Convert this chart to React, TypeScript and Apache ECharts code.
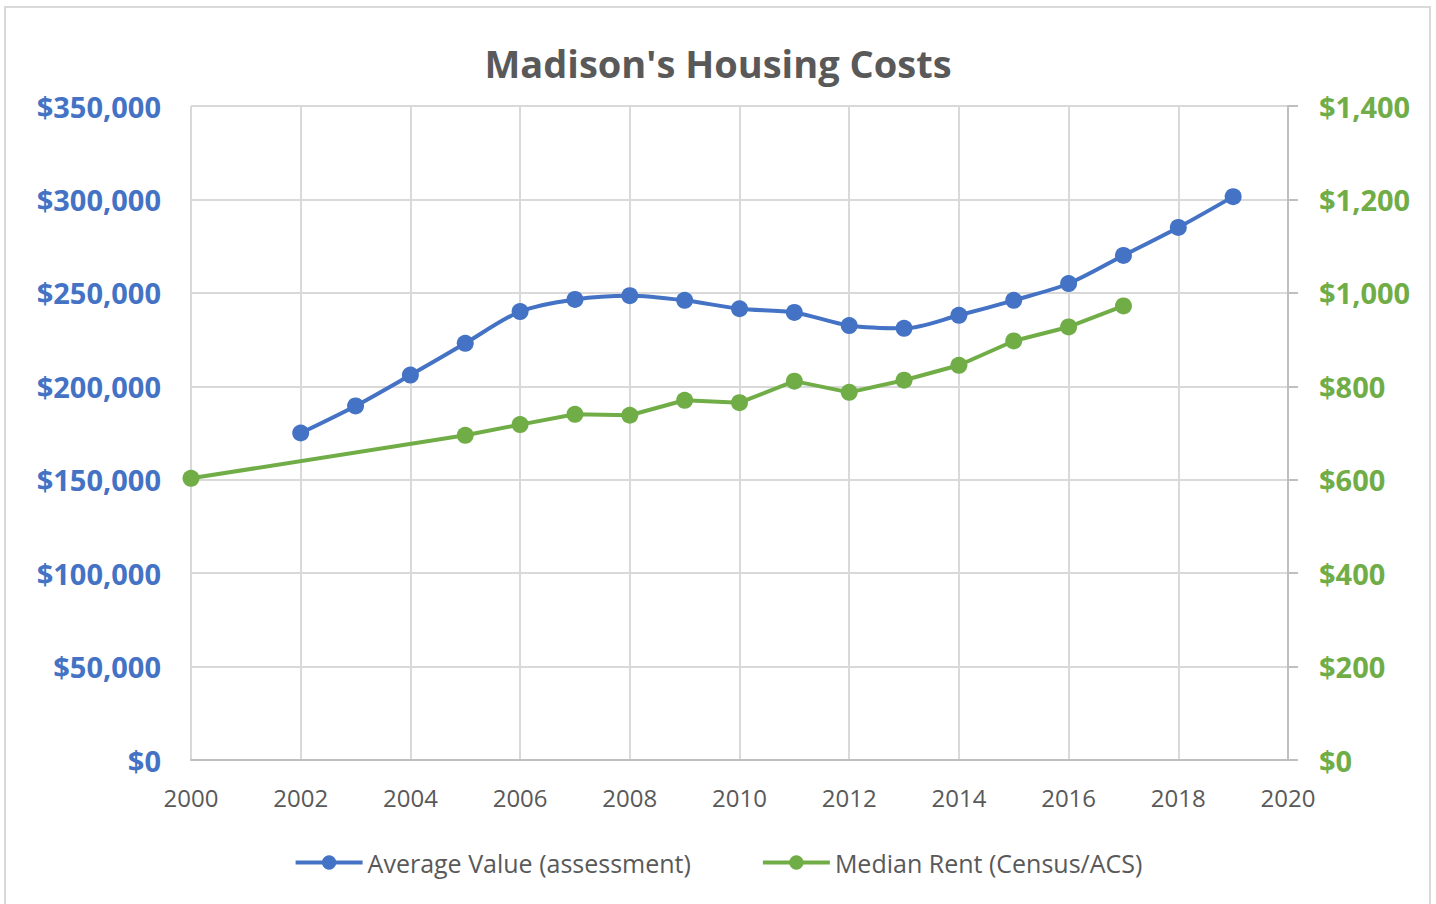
import React, { useEffect, useRef } from "react";
import * as echarts from "echarts";

const valueYears = [2002, 2003, 2004, 2005, 2006, 2007, 2008, 2009, 2010, 2011, 2012, 2013, 2014, 2015, 2016, 2017, 2018, 2019];
const averageValue = [175000, 189500, 206000, 223000, 240000, 246500, 248500, 246000, 241500, 239500, 232500, 231000, 238000, 246000, 255000, 270000, 285000, 301500];

const rentYears = [2000, 2005, 2006, 2007, 2008, 2009, 2010, 2011, 2012, 2013, 2014, 2015, 2016, 2017];
const medianRent = [603, 695, 718, 740, 738, 770, 765, 811, 787, 813, 845, 897, 927, 972];

const FONT = "'Open Sans', 'Noto Sans', sans-serif";

export default function App() {
  const ref = useRef<HTMLDivElement>(null);
  useEffect(() => {
    document.body.style.margin = "0";
    const chart = echarts.init(ref.current!, undefined, { renderer: "svg" });
    chart.setOption({
      animation: false,
      backgroundColor: "#ffffff",
      textStyle: { fontFamily: FONT },
      title: {
        text: "Madison's Housing Costs",
        left: "center",
        top: 39,
        textStyle: { fontFamily: FONT, fontSize: 38, fontWeight: "bold", color: "#595959" },
      },
      graphic: [
        {
          type: "rect",
          shape: { x: 5, y: 7, width: 1425, height: 920 },
          style: { fill: "none", stroke: "#d9d9d9", lineWidth: 2 },
          silent: true,
        },
      ],
      legend: {
        bottom: 24,
        left: "center",
        itemWidth: 67,
        itemHeight: 18,
        itemGap: 70,
        lineStyle: { width: 4 },
        textStyle: { fontFamily: FONT, fontSize: 25, color: "#595959" },
        data: ["Average Value (assessment)", "Median Rent (Census/ACS)"],
      },
      grid: { left: 191, right: 148, top: 106, bottom: 144 },
      xAxis: {
        type: "value",
        min: 2000,
        max: 2020,
        interval: 2,
        axisLine: { show: true, lineStyle: { color: "#bfbfbf", width: 2 } },
        axisTick: { show: false },
        axisLabel: { color: "#595959", fontSize: 24, fontFamily: FONT, margin: 25, formatter: (v: number) => String(v) },
        splitLine: { show: true, lineStyle: { color: "#d9d9d9", width: 2 } },
      },
      yAxis: [
        {
          type: "value",
          min: 0,
          max: 350000,
          interval: 50000,
          axisLine: { show: false },
          axisTick: { show: false },
          axisLabel: {
            color: "#4472C4",
            fontSize: 29,
            fontWeight: "bold",
            fontFamily: FONT,
            margin: 30,
            formatter: (v: number) => "$" + v.toLocaleString("en-US"),
          },
          splitLine: { show: true, lineStyle: { color: "#d9d9d9", width: 2 } },
        },
        {
          type: "value",
          min: 0,
          max: 1400,
          interval: 200,
          position: "right",
          axisLine: { show: true, lineStyle: { color: "#bfbfbf", width: 2 } },
          axisTick: { show: true, length: 10, lineStyle: { color: "#bfbfbf", width: 2 } },
          axisLabel: {
            color: "#70AD47",
            fontSize: 29,
            fontWeight: "bold",
            fontFamily: FONT,
            margin: 31,
            formatter: (v: number) => "$" + v.toLocaleString("en-US"),
          },
          splitLine: { show: false },
        },
      ],
      series: [
        {
          name: "Average Value (assessment)",
          type: "line",
          yAxisIndex: 0,
          smooth: 0.3,
          symbol: "circle",
          symbolSize: 17,
          color: "#4472C4",
          lineStyle: { width: 4, color: "#4472C4" },
          data: valueYears.map((y, i) => [y, averageValue[i]]),
        },
        {
          name: "Median Rent (Census/ACS)",
          type: "line",
          yAxisIndex: 1,
          symbol: "circle",
          symbolSize: 17,
          color: "#70AD47",
          lineStyle: { width: 4, color: "#70AD47" },
          data: rentYears.map((y, i) => [y, medianRent[i]]),
        },
      ],
    });
    return () => chart.dispose();
  }, []);
  return <div ref={ref} style={{ width: 1436, height: 904 }} />;
}
